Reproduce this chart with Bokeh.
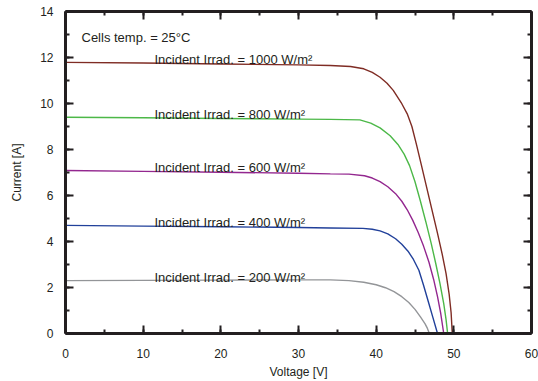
from bokeh.plotting import figure
from bokeh.models import LinearAxis, SingleIntervalTicker, ColumnDataSource, CustomLabelingPolicy
from bokeh.core.properties import value
from bokeh.embed import file_html
from bokeh.resources import INLINE

# ---- data ----
irradiance = [1000, 800, 600, 400, 200]

V_1000 = [0, 10, 20, 30, 34.1, 36.7, 38.4, 39.5, 40.5, 41.4, 42.2, 43.3, 44.0, 44.6, 45.2, 45.8,
          46.5, 47.2, 47.9, 48.5, 49.0, 49.4, 49.65, 49.8]
I_1000 = [11.79, 11.76, 11.72, 11.68, 11.65, 11.61, 11.51, 11.35, 11.14, 10.88, 10.57, 9.99, 9.55, 9.0, 8.2, 7.35,
          6.35, 5.35, 4.35, 3.45, 2.6, 1.7, 0.9, 0.0]

V_800 = [0, 10, 20, 30, 34.1, 37.9, 39.3, 40.5, 41.8, 42.8, 43.6, 44.3, 45.0, 45.7, 46.4, 47.1,
         47.7, 48.2, 48.7, 49.0, 49.2]
I_800 = [9.40, 9.38, 9.35, 9.32, 9.31, 9.29, 9.15, 8.94, 8.6, 8.22, 7.8, 7.3, 6.6, 5.75, 4.85, 3.9,
         3.0, 2.2, 1.3, 0.6, 0.0]

V_600 = [0, 10, 20, 30, 34.1, 36.5, 38.5, 39.5, 40.5, 41.5, 42.5, 43.3, 44.0, 44.7, 45.4, 46.1,
         46.8, 47.4, 47.9, 48.3, 48.7]
I_600 = [7.09, 7.05, 7.01, 6.97, 6.94, 6.93, 6.86, 6.76, 6.6, 6.38, 6.08, 5.75, 5.38, 4.93, 4.4, 3.8,
         3.1, 2.35, 1.6, 0.9, 0.0]

V_400 = [0, 10, 20, 30, 34.1, 38.3, 39.5, 40.5, 41.5, 42.5, 43.3, 44.1, 44.8, 45.5, 46.1, 46.7,
         47.3, 47.9]
I_400 = [4.70, 4.67, 4.64, 4.61, 4.59, 4.57, 4.53, 4.46, 4.33, 4.12, 3.88, 3.58, 3.22, 2.75, 2.1, 1.4,
         0.7, 0.0]

V_200 = [0, 10, 20, 30, 34.1, 36.5, 38.4, 40.0, 41.2, 42.3, 43.3, 44.2, 45.0, 45.7, 46.3, 46.6, 46.85]
I_200 = [2.30, 2.31, 2.32, 2.33, 2.33, 2.30, 2.23, 2.12, 1.99, 1.82, 1.6, 1.35, 1.05, 0.72, 0.42, 0.22, 0.0]

x_ticks_interval = 10
y_ticks_interval = 2

curves_V = [V_1000, V_800, V_600, V_400, V_200]
curves_I = [I_1000, I_800, I_600, I_400, I_200]
colors = ["#7f2c24", "#4cb848", "#93278f", "#21409a", "#939598"]

INK = "#231f20"
FONT = "Liberation Sans"

p = figure(width=538, height=381, x_range=(0, 60), y_range=(0, 14),
           output_backend="svg", toolbar_location=None,
           min_border_left=65, min_border_right=7, min_border_top=11, min_border_bottom=48)
p.grid.visible = False
p.outline_line_color = None
p.background_fill_color = "white"
p.border_fill_color = "white"

p.add_layout(LinearAxis(), "above")
p.add_layout(LinearAxis(), "right")

no_labels = CustomLabelingPolicy(code="""
    for (const i of indices)
        indices.unset(i)
    return indices
""")


def style_axis(ax, interval, labels):
    ax.ticker = SingleIntervalTicker(interval=interval, num_minor_ticks=2)
    ax.axis_line_width = 3
    ax.axis_line_color = INK
    ax.major_tick_in = 8
    ax.major_tick_out = 0
    ax.minor_tick_in = 4
    ax.minor_tick_out = 0
    ax.major_tick_line_width = 2
    ax.minor_tick_line_width = 2
    ax.major_tick_line_color = INK
    ax.minor_tick_line_color = INK
    ax.major_label_text_font = FONT
    ax.major_label_text_color = INK
    ax.major_label_text_font_size = "12px"
    ax.axis_label_text_font = FONT
    ax.axis_label_text_font_style = "normal"
    ax.axis_label_text_color = INK
    ax.axis_label_text_font_size = "12px"
    if not labels:
        ax.major_label_policy = no_labels
        ax.major_label_text_font_size = "0px"
        ax.major_label_standoff = 0
        ax.axis_label = None


for ax in p.below:
    style_axis(ax, x_ticks_interval, True)
    ax.axis_label = "Voltage [V]"
    ax.major_label_standoff = 15
    ax.axis_label_standoff = 4
for ax in p.left:
    style_axis(ax, y_ticks_interval, True)
    ax.axis_label = "Current [A]"
    ax.major_label_standoff = 12
    ax.axis_label_standoff = 13
for ax in p.above:
    style_axis(ax, x_ticks_interval, False)
for ax in p.right:
    style_axis(ax, y_ticks_interval, False)

for V, I, c in zip(curves_V, curves_I, colors):
    p.line(V, I, line_color=c, line_width=1.4)

label_src = ColumnDataSource(dict(
    x=[11.45] * len(irradiance),
    y=[I[0] + 0.13 for I in curves_I],
    text=[f"Incident Irrad. = {g} W/m²" for g in irradiance],
))
p.text(x="x", y="y", text="text", source=label_src, text_font=value(FONT),
       text_font_size="13px", text_color=INK, text_baseline="alphabetic",
       text_align="left")

p.text(x=[2.06], y=[12.87], text=["Cells temp. = 25°C"], text_font=value(FONT),
       text_font_size="13px", text_color=INK, text_baseline="alphabetic",
       text_align="left")

open("out.html", "w").write(file_html(p, INLINE))
